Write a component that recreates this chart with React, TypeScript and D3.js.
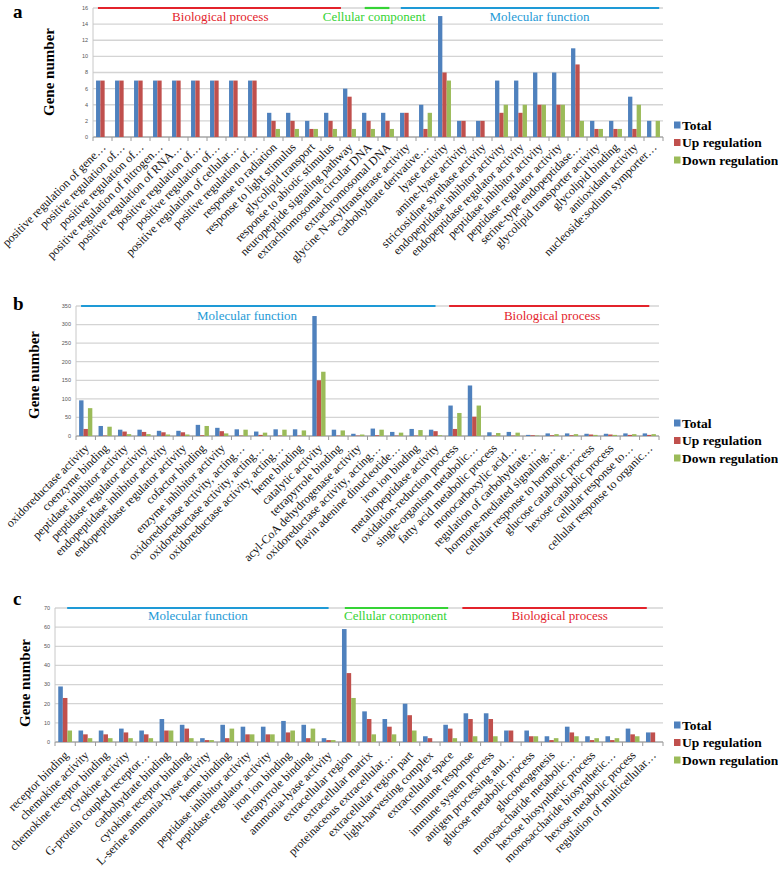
import React from "react";
import * as d3 from "d3";

// ---------- DATA ----------
const SERIES = ["Total", "Up regulation", "Down regulation"];
const SERIES_COLORS = ["#4F81BD", "#C0504D", "#9BBB59"];

const aCategories = [
  "positive regulation of gene…", "positive regulation of…", "positive regulation of…",
  "positive regulation of nitrogen…", "positive regulation of RNA…", "positive regulation of…",
  "positive regulation of…", "positive regulation of cellular…", "positive regulation of…",
  "response to radiation", "response to light stimulus", "glycolipid transport",
  "response to abiotic stimulus", "neuropeptide signaling pathway", "extrachromosomal circular DNA",
  "extrachromosomal DNA", "glycine N-acyltransferase activity", "carbohydrate derivative…",
  "lyase activity", "amine-lyase activity", "strictosidine synthase activity",
  "endopeptidase inhibitor activity", "endopeptidase regulator activity", "peptidase inhibitor activity",
  "peptidase regulator activity", "serine-type endopeptidase…", "glycolipid transporter activity",
  "glycolipid binding", "antioxidant activity", "nucleoside:sodium symporter…",
];
const aTotal = [7, 7, 7, 7, 7, 7, 7, 7, 7, 3, 3, 2, 3, 6, 3, 3, 3, 4, 15, 2, 2, 7, 7, 8, 8, 11, 2, 2, 5, 2];
const aUp = [7, 7, 7, 7, 7, 7, 7, 7, 7, 2, 2, 1, 2, 5, 2, 2, 3, 1, 8, 2, 2, 3, 3, 4, 4, 9, 1, 1, 1, 0];
const aDown = [0, 0, 0, 0, 0, 0, 0, 0, 0, 1, 1, 1, 1, 1, 1, 1, 0, 3, 7, 0, 0, 4, 4, 4, 4, 2, 1, 1, 4, 2];
const aTicks = [0, 2, 4, 6, 8, 10, 12, 14, 16];
const aGroupNames = ["Biological process", "Cellular component", "Molecular function"];
const aGroupStart = [0.26, 14.3, 16.2];
const aGroupEnd = [13.05, 15.6, 29.8];
const aGroupLabelAt = [6.7, 14.8, 23.5];

const bCategories = [
  "oxidoreductase activity", "coenzyme binding", "peptidase inhibitor activity",
  "peptidase regulator activity", "endopeptidase inhibitor activity", "endopeptidase regulator activity",
  "cofactor binding", "enzyme inhibitor activity", "oxidoreductase activity, acting…",
  "oxidoreductase activity, acting…", "oxidoreductase activity, acting…", "heme binding",
  "catalytic activity", "tetrapyrrole binding", "acyl-CoA dehydrogenase activity",
  "oxidoreductase activity, acting…", "flavin adenine dinucleotide…", "iron ion binding",
  "metallopeptidase activity", "oxidation-reduction process", "single-organism metabolic…",
  "fatty acid metabolic process", "monocarboxylic acid…", "regulation of carbohydrate…",
  "hormone-mediated signaling…", "cellular response to hormone…", "glucose catabolic process",
  "hexose catabolic process", "cellular response to…", "cellular response to organic…",
];
const bTotal = [96, 27, 17, 17, 14, 14, 30, 22, 18, 12, 18, 18, 323, 17, 6, 20, 11, 19, 17, 82, 136, 10, 11, 3, 7, 7, 6, 6, 7, 7];
const bUp = [19, 1, 12, 11, 10, 10, 2, 13, 1, 3, 1, 1, 150, 1, 1, 2, 1, 1, 13, 19, 52, 1, 1, 2, 2, 2, 4, 4, 3, 3];
const bDown = [75, 25, 5, 5, 4, 4, 27, 7, 17, 9, 17, 15, 173, 15, 4, 17, 9, 16, 2, 62, 82, 8, 9, 1, 5, 5, 3, 3, 5, 5];
const bTicks = [0, 50, 100, 150, 200, 250, 300, 350];
const bGroupNames = ["Molecular function", "Biological process"];
const bGroupStart = [0.26, 19.2];
const bGroupEnd = [18.5, 29.5];
const bGroupLabelAt = [8.8, 24.5];

const cCategories = [
  "receptor binding", "chemokine activity", "chemokine receptor binding", "cytokine activity",
  "G-protein coupled receptor…", "carbohydrate binding", "cytokine receptor binding",
  "L-serine ammonia-lyase activity", "heme binding", "peptidase inhibitor activity",
  "peptidase regulator activity", "iron ion binding", "tetrapyrrole binding",
  "ammonia-lyase activity", "extracellular region", "extracellular matrix",
  "proteinaceous extracellular…", "extracellular region part", "light-harvesting complex",
  "extracellular space", "immune response", "immune system process",
  "antigen processing and…", "glucose metabolic process", "gluconeogenesis",
  "monosaccharide metabolic…", "hexose biosynthetic process", "monosaccharide biosynthetic…",
  "hexose metabolic process", "regulation of multicellular…",
];
const cTotal = [29, 6, 6, 7, 6, 12, 9, 2, 9, 8, 8, 11, 9, 2, 59, 16, 12, 20, 3, 9, 15, 15, 6, 6, 3, 8, 3, 3, 7, 5];
const cUp = [23, 4, 4, 5, 4, 6, 7, 1, 2, 4, 4, 5, 2, 1, 36, 12, 8, 14, 2, 7, 12, 12, 6, 3, 1, 5, 1, 1, 4, 5];
const cDown = [6, 2, 2, 2, 2, 6, 2, 1, 7, 4, 4, 6, 7, 1, 23, 4, 4, 6, 0, 2, 3, 3, 0, 3, 2, 3, 2, 2, 3, 0];
const cTicks = [0, 10, 20, 30, 40, 50, 60, 70];
const cGroupNames = ["Molecular function", "Cellular component", "Biological process"];
const cGroupStart = [0.6, 14.3, 20.1];
const cGroupEnd = [13.5, 19.4, 29.2];
const cGroupLabelAt = [7.05, 16.8, 24.9];

const GROUP_COLORS: Record<string, string> = {
  "Biological process": "#E3232B",
  "Cellular component": "#35D335",
  "Molecular function": "#1E9AD6",
};

// ---------- PANEL ----------
type PanelProps = {
  letter: string;
  letterY: number;
  cats: string[];
  values: number[][];
  ticks: number[];
  left: number;
  right: number;
  y0: number;
  yTop: number;
  yLabelX: number;
  yLabelY: number;
  labelDx: number;
  labelDy: number;
  groupNames: string[];
  groupStart: number[];
  groupEnd: number[];
  groupLabelAt: number[];
  groupLabelDy: number;
  legendY: number;
};

const SERIF = "Liberation Serif, DejaVu Serif, Times New Roman, serif";
const SANS = "Liberation Sans, Arial, sans-serif";

function Panel(p: PanelProps) {
  const x = d3.scaleBand<string>().domain(p.cats.map((_, i) => String(i))).range([p.left, p.right]).padding(0);
  const bw = x.bandwidth();
  const inner = d3.scaleBand<string>().domain(SERIES).range([bw * 0.16, bw * 0.84]).padding(0);
  const y = d3.scaleLinear().domain([0, p.ticks[p.ticks.length - 1]]).range([p.y0, p.yTop]);
  const pos = (f: number) => p.left + f * bw;
  return (
    <g>
      <text x={13} y={p.letterY} style={{ fontFamily: SERIF, fontWeight: "bold", fontSize: "19px" }}>{p.letter}</text>
      <text transform={`translate(${p.yLabelX},${p.yLabelY}) rotate(-90)`} textAnchor="middle"
        style={{ fontFamily: SERIF, fontWeight: "bold", fontSize: "15px" }} dy="0.35em">Gene number</text>
      {p.ticks.map((t) => (
        <g key={"g" + t}>
          <line x1={p.left} x2={p.right} y1={y(t)} y2={y(t)} stroke={t === 0 ? "#A6A6A6" : "#D4D4D4"} strokeWidth={1.3} />
          <text x={p.left - 5} y={y(t)} dy="0.35em" textAnchor="end"
            style={{ fontFamily: SANS, fontSize: "5.5px" }} fill="#555">{t}</text>
        </g>
      ))}
      <line x1={p.left} x2={p.left} y1={p.yTop} y2={p.y0} stroke="#C8C8C8" strokeWidth={1} />
      {d3.range(p.cats.length + 1).map((i) => (
        <line key={"t" + i} x1={pos(i)} x2={pos(i)} y1={p.y0} y2={p.y0 + 4} stroke="#9A9A9A" strokeWidth={1} />
      ))}
      {p.cats.map((c, i) =>
        p.values.map((vals, s) =>
          vals[i] > 0 ? (
            <rect key={`b${i}-${s}`} x={(x(String(i)) as number) + (inner(SERIES[s]) as number)} y={y(vals[i])}
              width={inner.bandwidth()} height={p.y0 - y(vals[i])} fill={SERIES_COLORS[s]} />
          ) : null
        )
      )}
      {p.cats.map((c, i) => {
        const cx = (x(String(i)) as number) + bw / 2 + p.labelDx;
        const cy = p.y0 + p.labelDy;
        return (
          <text key={"l" + i} transform={`translate(${cx},${cy}) rotate(-45)`} textAnchor="end"
            style={{ fontFamily: SERIF, fontSize: "12px" }} fill="#111">{c}</text>
        );
      })}
      {p.groupNames.map((g, i) => (
        <g key={"grp" + i}>
          <line x1={pos(p.groupStart[i])} x2={pos(p.groupEnd[i])} y1={p.yTop} y2={p.yTop}
            stroke={GROUP_COLORS[g]} strokeWidth={2.2} />
          <text x={pos(p.groupLabelAt[i])} y={p.yTop + p.groupLabelDy} textAnchor="middle"
            style={{ fontFamily: SERIF, fontSize: "13px" }} fill={GROUP_COLORS[g]}>{g}</text>
        </g>
      ))}
      {SERIES.map((s, i) => (
        <g key={"lg" + i} transform={`translate(674,${p.legendY + i * 17.5})`}>
          <rect x={0} y={-3.5} width={6.5} height={7} fill={SERIES_COLORS[i]} />
          <text x={8} y={0} dy="0.35em" style={{ fontFamily: SERIF, fontWeight: "bold", fontSize: "13.5px" }}>{s}</text>
        </g>
      ))}
    </g>
  );
}

export default function App() {
  return (
    <div style={{ position: "absolute", left: 0, top: 0 }}>
      <svg width={778} height={879} style={{ display: "block", background: "#fff" }}>
        <Panel letter="a" letterY={17.5} cats={aCategories} values={[aTotal, aUp, aDown]} ticks={aTicks}
          left={93} right={663} y0={137} yTop={8} yLabelX={49} yLabelY={72} labelDx={4} labelDy={11}
          groupNames={aGroupNames} groupStart={aGroupStart} groupEnd={aGroupEnd} groupLabelAt={aGroupLabelAt}
          groupLabelDy={13} legendY={125} />
        <Panel letter="b" letterY={310} cats={bCategories} values={[bTotal, bUp, bDown]} ticks={bTicks}
          left={76} right={659} y0={436} yTop={306} yLabelX={34} yLabelY={375} labelDx={4} labelDy={13}
          groupNames={bGroupNames} groupStart={bGroupStart} groupEnd={bGroupEnd} groupLabelAt={bGroupLabelAt}
          groupLabelDy={14} legendY={423} />
        <Panel letter="c" letterY={605} cats={cCategories} values={[cTotal, cUp, cDown]} ticks={cTicks}
          left={55} right={663} y0={742} yTop={608} yLabelX={25} yLabelY={683} labelDx={4} labelDy={14}
          groupNames={cGroupNames} groupStart={cGroupStart} groupEnd={cGroupEnd} groupLabelAt={cGroupLabelAt}
          groupLabelDy={12} legendY={725} />
      </svg>
    </div>
  );
}
